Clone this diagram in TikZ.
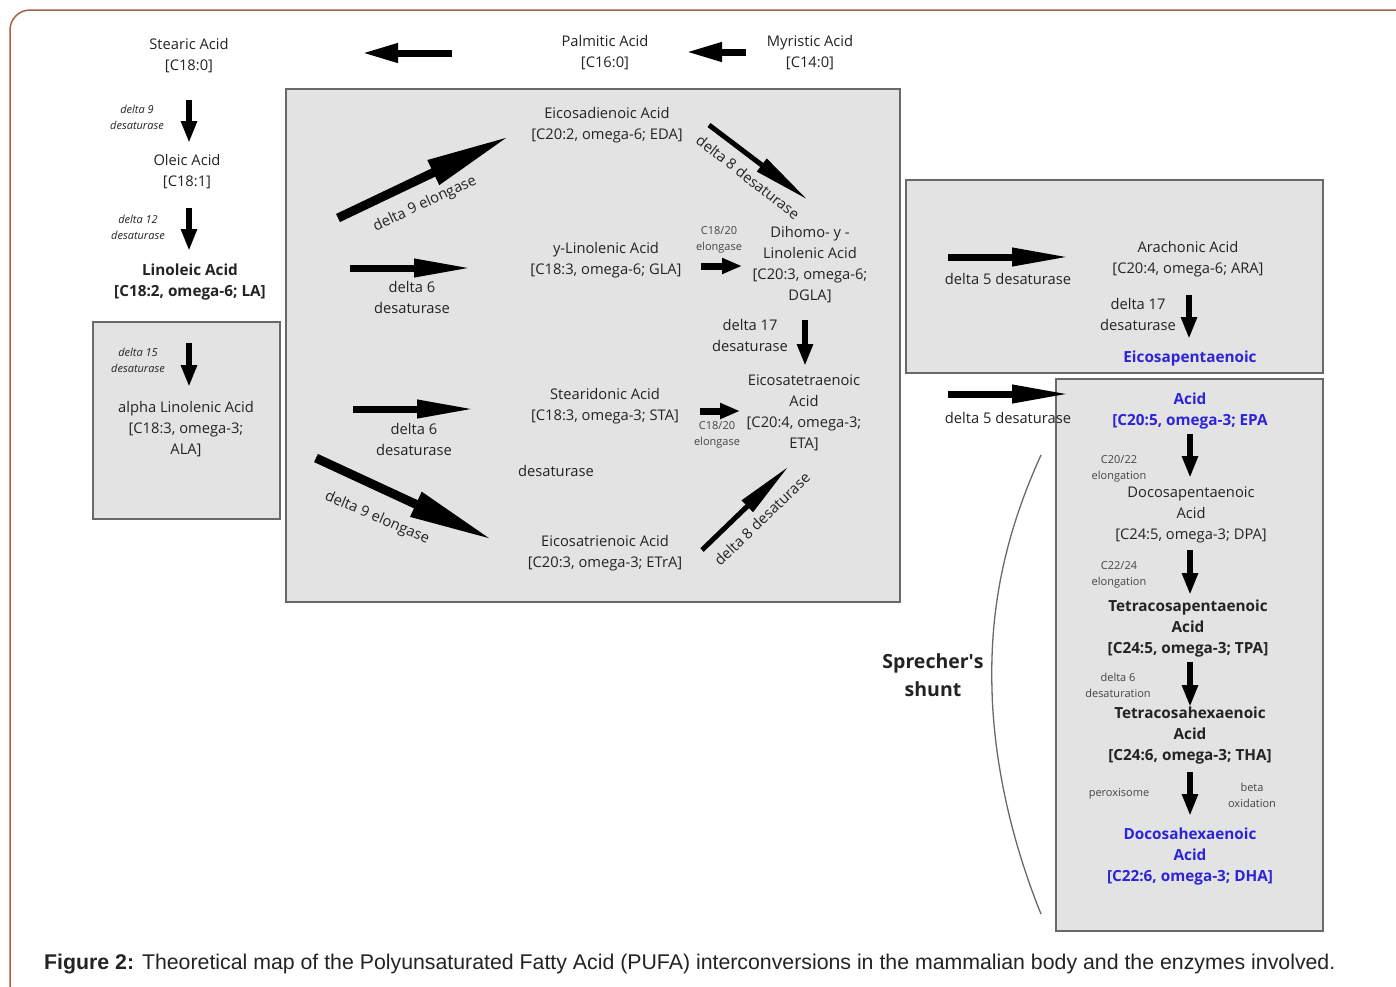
\documentclass[tikz,border=0pt]{standalone}
\usepackage{fontspec}
\setmainfont{Open Sans}
\newfontfamily\capfont{Liberation Sans}
\usetikzlibrary{arrows.meta,positioning}
\definecolor{framebrown}{RGB}{165,95,75}
\definecolor{boxgray}{RGB}{227,227,227}
\definecolor{edgegray}{RGB}{105,105,105}
\definecolor{txt}{RGB}{35,35,35}
\definecolor{epablue}{RGB}{45,35,215}

\begin{document}
\begin{tikzpicture}[
  x=1pt, y=-1pt,
  acid/.style={align=center, text=txt, inner sep=0pt, font=\fontsize{14.7}{21}\selectfont},
  boldacid/.style={acid, font=\fontsize{15.3}{21}\selectfont\bfseries},
  blueacid/.style={boldacid, text=epablue},
  enzit/.style={align=center, text=txt, inner sep=0pt, font=\fontsize{11}{16}\selectfont\itshape},
  enzsm/.style={align=center, text=txt!85, inner sep=0pt, font=\fontsize{11}{16}\selectfont},
  panel/.style={draw=edgegray, fill=boxgray, line width=2.5pt},
  topArr/.style={-{Triangle[length=36pt,width=18pt]}, line width=7pt},
  downArr/.style={-{Triangle[length=22pt,width=15pt]}, line width=6pt},
  sideArr/.style={-{Triangle[length=58pt,width=17pt]}, line width=7pt},
  longArr/.style={-{Triangle[length=85pt,width=25pt]}, line width=9pt},
  slimArr/.style={-{Triangle[length=58pt,width=15pt]}, line width=5pt},
  stubArr/.style={-{Triangle[length=20pt,width=15pt]}, line width=7pt}
]
  \useasboundingbox (0,0) rectangle (1396,986);
  \fill[white] (0,0) rectangle (1396,986);
  \draw[framebrown, line width=1.5pt, rounded corners=20pt] (1396,10) -- (10,10) -- (10,990);

  % panels
  \filldraw[panel] (286,89) rectangle (900,602);
  \filldraw[panel] (93,322) rectangle (280,519);
  \filldraw[panel] (906,180) rectangle (1323,373);
  \filldraw[panel] (1056,379) rectangle (1323,931);

  % saturated chain
  \node[acid] (stearic) at (189,56) {Stearic Acid\\{}[C18:0]};
  \node[acid] (palmitic) at (605,53) {Palmitic Acid\\{}[C16:0]};
  \node[acid] (myristic) at (810,53) {Myristic Acid\\{}[C14:0]};
  \coordinate (palmR) at (452,53);
  \coordinate (stearL) at (362,53);
  \coordinate (myrR) at (746,52);
  \coordinate (palmL) at (686,52);
  \draw[topArr] (palmR) -- (stearL);
  \draw[topArr] (myrR) -- (palmL);

  \node[enzit] (d9des) at (137,117) {delta 9\\desaturase};
  \coordinate (d9a) at (189,100);
  \coordinate (d9b) at (189,143);
  \draw[downArr] (d9a) -- (d9b);
  \node[acid] (oleic) at (187,172) {Oleic Acid\\{}[C18:1]};
  \node[enzit] (d12des) at (138,227) {delta 12\\desaturase};
  \coordinate (d12a) at (189,208);
  \coordinate (d12b) at (189,251);
  \draw[downArr] (d12a) -- (d12b);
  \node[boldacid] (la) at (190,282) {Linoleic Acid\\{}[C18:2, omega-6; LA]};

  \node[enzit] (d15des) at (138,360) {delta 15\\desaturase};
  \coordinate (d15a) at (189,343);
  \coordinate (d15b) at (189,387);
  \draw[downArr] (d15a) -- (d15b);
  \node[acid] (ala) at (186,429) {alpha Linolenic Acid\\{}[C18:3, omega-3;\\ALA]};

  % omega-6 / omega-3 middle panel
  \node[acid] (eda) at (607,125) {Eicosadienoic Acid\\{}[C20:2, omega-6; EDA]};
  \coordinate (e9a) at (338,218);
  \coordinate (e9b) at (510,136);
  \draw[longArr] (e9a) -- (e9b);
  \node[acid, rotate=25] (e9lab) at (425,204) {delta 9 elongase};

  \coordinate (d8a) at (709,125);
  \coordinate (d8b) at (808,200);
  \draw[slimArr] (d8a) -- (d8b);
  \node[acid, rotate=-38] (d8lab) at (748,177) {delta 8 desaturase};

  \node[acid] (gla) at (606,260) {y-Linolenic Acid\\{}[C18:3, omega-6; GLA]};
  \coordinate (d6a) at (350,268);
  \coordinate (d6b) at (472,268);
  \draw[sideArr] (d6a) -- (d6b);
  \node[acid] (d6lab) at (412,297) {delta 6\\desaturase};

  \node[enzsm] (el1) at (719,240) {C18/20\\elongase};
  \coordinate (el1a) at (701,266);
  \coordinate (el1b) at (742,266);
  \draw[stubArr] (el1a) -- (el1b);
  \node[acid] (dgla) at (810,265) {Dihomo- y -\\Linolenic Acid\\{}[C20:3, omega-6;\\DGLA]};

  \node[acid] (d17lab) at (750,335) {delta 17\\desaturase};
  \coordinate (d17a) at (805,320);
  \coordinate (d17b) at (805,366);
  \draw[downArr] (d17a) -- (d17b);

  \node[acid] (sta) at (605,406) {Stearidonic Acid\\{}[C18:3, omega-3; STA]};
  \coordinate (d6c) at (353,409);
  \coordinate (d6d) at (475,409);
  \draw[sideArr] (d6c) -- (d6d);
  \node[acid] (d6lab2) at (414,439) {delta 6\\desaturase};
  \node[acid] (desat) at (556,471) {desaturase};

  \node[enzsm] (el2) at (717,435) {C18/20\\elongase};
  \coordinate (el2a) at (700,411);
  \coordinate (el2b) at (740,411);
  \draw[stubArr] (el2a) -- (el2b);
  \node[acid] (eta) at (804,413) {Eicosatetraenoic\\Acid\\{}[C20:4, omega-3;\\ETA]};

  \coordinate (e9c) at (316,458);
  \coordinate (e9d) at (493,540);
  \draw[longArr] (e9c) -- (e9d);
  \node[acid, rotate=-23] (e9lab2) at (377,518) {delta 9 elongase};

  \node[acid] (etra) at (605,553) {Eicosatrienoic Acid\\{}[C20:3, omega-3; ETrA]};
  \coordinate (d8c) at (702,550);
  \coordinate (d8d) at (789,466);
  \draw[slimArr] (d8c) -- (d8d);
  \node[acid, rotate=44] (d8lab2) at (762,519) {delta 8 desaturase};

  % right panels
  \coordinate (d5a) at (948,257);
  \coordinate (d5b) at (1070,257);
  \draw[sideArr] (d5a) -- (d5b);
  \node[acid] (d5lab) at (1008,279) {delta 5 desaturase};
  \node[acid] (ara) at (1188,259) {Arachonic Acid\\{}[C20:4, omega-6; ARA]};
  \node[acid] (d17lab2) at (1138,314) {delta 17\\desaturase};
  \coordinate (d17c) at (1189,295);
  \coordinate (d17d) at (1189,339);
  \draw[downArr] (d17c) -- (d17d);
  \node[blueacid] (epa1) at (1190,359) {Eicosapentaenoic};

  \coordinate (d5c) at (948,394);
  \coordinate (d5d) at (1070,394);
  \draw[sideArr] (d5c) -- (d5d);
  \node[acid] (d5lab2) at (1008,418) {delta 5 desaturase};

  \node[blueacid] (epa2) at (1190,411) {Acid\\{}[C20:5, omega-3; EPA};
  \node[enzsm] (c2022) at (1119,469) {C20/22\\elongation};
  \coordinate (epaA) at (1190,434);
  \coordinate (epaB) at (1190,478);
  \draw[downArr] (epaA) -- (epaB);
  \node[acid] (dpa) at (1191,515) {Docosapentaenoic\\Acid\\{}[C24:5, omega-3; DPA]};
  \node[enzsm] (c2224) at (1119,575) {C22/24\\elongation};
  \coordinate (dpaA) at (1190,550);
  \coordinate (dpaB) at (1190,595);
  \draw[downArr] (dpaA) -- (dpaB);
  \node[boldacid] (tpa) at (1188,629) {Tetracosapentaenoic\\Acid\\{}[C24:5, omega-3; TPA]};
  \node[enzsm] (d6sat) at (1118,685) {delta 6\\desaturation};
  \coordinate (tpaA) at (1190,662);
  \coordinate (tpaB) at (1190,707);
  \draw[downArr] (tpaA) -- (tpaB);
  \node[boldacid] (tha) at (1190,736) {Tetracosahexaenoic\\Acid\\{}[C24:6, omega-3; THA]};
  \node[enzsm] (perox) at (1119,794) {peroxisome};
  \node[enzsm] (betaox) at (1252,795) {beta\\oxidation};
  \coordinate (thaA) at (1190,772);
  \coordinate (thaB) at (1190,816);
  \draw[downArr] (thaA) -- (thaB);
  \node[blueacid] (dha) at (1190,857) {Docosahexaenoic\\Acid\\{}[C22:6, omega-3; DHA]};

  % Sprecher's shunt
  \node[align=center, text=txt, font=\fontsize{19.5}{28}\selectfont\bfseries] (shunt) at (933,675) {Sprecher\textquotesingle s\\shunt};
  \coordinate (shuntTop) at (1041,455);
  \coordinate (shuntBot) at (1041,914);
  \draw[edgegray, line width=1.3pt] (shuntTop) .. controls (1000,545) and (990,620) .. (992,690)
    .. controls (994,770) and (1015,850) .. (shuntBot);

  % caption
  \node[anchor=base west, inner sep=0pt, text=txt, font=\capfont\fontsize{21.3}{24}\selectfont] (caption) at (44,969)
    {\textbf{Figure 2:} Theoretical map of the Polyunsaturated Fatty Acid (PUFA) interconversions in the mammalian body and the enzymes involved.};
\end{tikzpicture}
\end{document}
